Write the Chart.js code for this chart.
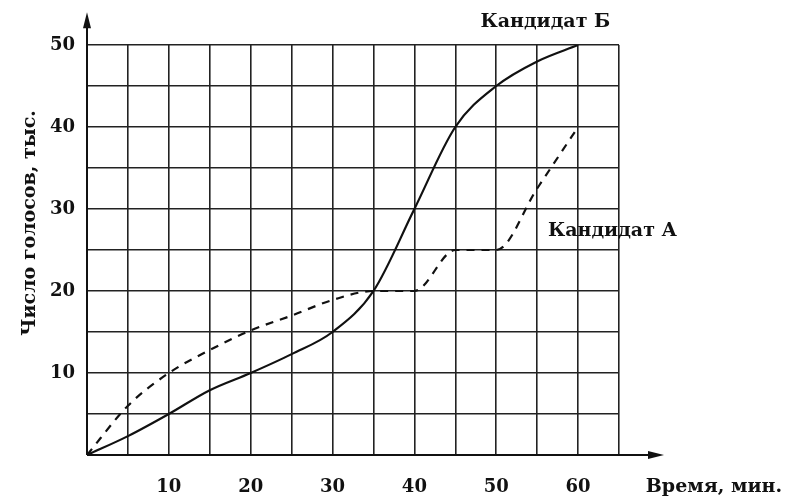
<!DOCTYPE html>
<html>
<head>
<meta charset="utf-8">
<script src="https://cdn.jsdelivr.net/npm/chart.js@4"></script>
<style>
  body { margin: 0; background: #fff; }
  #wrap { width: 785px; height: 497px; }
</style>
</head>
<body>
<div id="wrap"><canvas id="chart"></canvas></div>
<script>
// time, minutes
var minutes = [0, 5, 10, 15, 20, 25, 30, 35, 40, 45, 50, 55, 60];
// votes, thousands
var candidateB = [0, 2.3, 5, 7.9, 10, 12.3, 15, 20, 30, 40, 45, 48, 50];
var candidateA = [0, 6, 10, 12.8, 15.2, 17, 18.9, 20, 20, 25, 25, 32.5, 40];

var xTickLabels = [10, 20, 30, 40, 50, 60];
var yTickLabels = [10, 20, 30, 40, 50];

var serif = '"DejaVu Serif", "Liberation Serif", serif';

function toPoints(ys) {
    return minutes.map(function (m, i) { return { x: m, y: ys[i] }; });
}

// axes arrows and free texts
var extras = {
    id: 'extras',
    afterDraw: function (chart) {
        var ctx = chart.ctx;
        var xs = chart.scales.x, ys = chart.scales.y;
        var x0 = xs.getPixelForValue(0), y0 = ys.getPixelForValue(0);
        var xEnd = xs.getPixelForValue(70.5), yEnd = ys.getPixelForValue(54);
        ctx.save();
        ctx.strokeStyle = '#111';
        ctx.fillStyle = '#111';
        ctx.lineWidth = 2;
        ctx.beginPath();
        ctx.moveTo(x0, y0); ctx.lineTo(xEnd - 4, y0);
        ctx.moveTo(x0, y0); ctx.lineTo(x0, yEnd + 4);
        ctx.stroke();
        ctx.beginPath();
        ctx.moveTo(xEnd, y0); ctx.lineTo(xEnd - 16, y0 - 4); ctx.lineTo(xEnd - 16, y0 + 4); ctx.closePath();
        ctx.fill();
        ctx.beginPath();
        ctx.moveTo(x0, yEnd); ctx.lineTo(x0 - 4, yEnd + 16); ctx.lineTo(x0 + 4, yEnd + 16); ctx.closePath();
        ctx.fill();

        ctx.font = 'bold 19px ' + serif;
        ctx.textAlign = 'center';
        ctx.textBaseline = 'middle';
        ctx.fillText('Кандидат Б', xs.getPixelForValue(56), ys.getPixelForValue(52.8));
        ctx.fillText('Кандидат А', xs.getPixelForValue(64.2), ys.getPixelForValue(27.3));
        ctx.fillText('Время, мин.', xs.getPixelForValue(76.6), y0 + 32);

        ctx.translate(xs.getPixelForValue(-7), ys.getPixelForValue(28.3));
        ctx.rotate(-Math.PI / 2);
        ctx.fillText('Число голосов, тыс.', 0, 0);
        ctx.restore();
    }
};

new Chart(document.getElementById('chart'), {
    type: 'line',
    data: {
        datasets: [{
            label: 'Кандидат Б',
            data: toPoints(candidateB),
            borderColor: '#111',
            borderWidth: 2.2,
            pointRadius: 0,
            cubicInterpolationMode: 'monotone',
            fill: false
        }, {
            label: 'Кандидат А',
            data: toPoints(candidateA),
            borderColor: '#111',
            borderWidth: 2.2,
            borderDash: [8, 7],
            pointRadius: 0,
            cubicInterpolationMode: 'monotone',
            fill: false
        }]
    },
    options: {
        responsive: true,
        maintainAspectRatio: false,
        animation: false,
        layout: { padding: { top: 45, right: 166, left: 0, bottom: 0 } },
        plugins: {
            legend: { display: false },
            tooltip: { enabled: false }
        },
        scales: {
            x: {
                type: 'linear',
                min: 0,
                max: 65,
                border: { display: false },
                grid: { color: '#222', lineWidth: 1.6, drawTicks: false },
                afterFit: function (scale) { scale.height = 42; },
                ticks: {
                    stepSize: 5,
                    padding: 22,
                    color: '#111',
                    font: { family: serif, size: 18, weight: 'bold' },
                    callback: function (v) { return xTickLabels.indexOf(v) >= 0 ? String(v) : ''; }
                }
            },
            y: {
                min: 0,
                max: 50,
                border: { display: false },
                grid: { color: '#222', lineWidth: 1.6, drawTicks: false },
                afterFit: function (scale) { scale.width = 87; },
                ticks: {
                    stepSize: 5,
                    padding: 12,
                    color: '#111',
                    font: { family: serif, size: 18, weight: 'bold' },
                    callback: function (v) { return yTickLabels.indexOf(v) >= 0 ? String(v) : ''; }
                }
            }
        }
    },
    plugins: [extras]
});
</script>
</body>
</html>
